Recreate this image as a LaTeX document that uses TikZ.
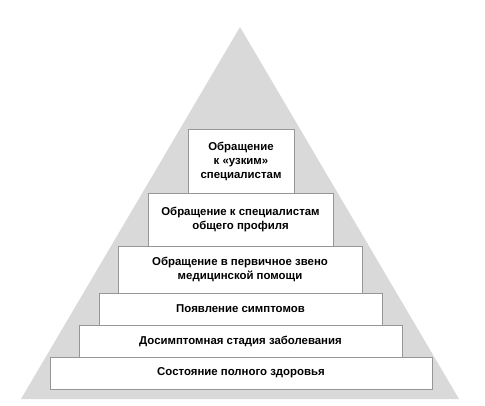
\documentclass[tikz,border=0pt]{standalone}
\usepackage{fontspec}
\setmainfont{Liberation Sans}
\usetikzlibrary{positioning}
\definecolor{pyrgray}{RGB}{217,217,217}
\definecolor{edgegray}{RGB}{150,150,150}

\begin{document}
\begin{tikzpicture}[x=1pt, y=-1pt,
    step_box/.style={rectangle, draw=edgegray, line width=0.8pt, fill=white, inner sep=0pt, outer sep=0pt, align=center, font=\fontsize{11.4}{14}\selectfont\bfseries},
    tri/.style={fill=pyrgray, draw=none}
]
\useasboundingbox (0,0) rectangle (485,406);
% background pyramid
\fill[tri] (240,27) -- (459,399) -- (21,399) -- cycle;

% steps, bottom to top
\node[step_box, minimum width=382pt, minimum height=32pt] (health) at (241,373) {Состояние полного здоровья};
\node[step_box, minimum width=323pt, minimum height=32pt] (presympt) at (240.5,341) {Досимптомная стадия заболевания};
\node[step_box, minimum width=283pt, minimum height=32pt] (sympt) at (240.5,309) {Появление симптомов};
\node[step_box, minimum width=244pt, minimum height=47pt] (primary) at (240,269.5) {Обращение в первичное звено\\медицинской помощи};
\node[step_box, minimum width=185pt, minimum height=53pt] (general) at (240.5,219.5) {Обращение к специалистам\\общего профиля};
\node[step_box, minimum width=106pt, minimum height=64pt] (narrow) at (241,161) {Обращение\\к «узким»\\специалистам};

\end{tikzpicture}
\end{document}
